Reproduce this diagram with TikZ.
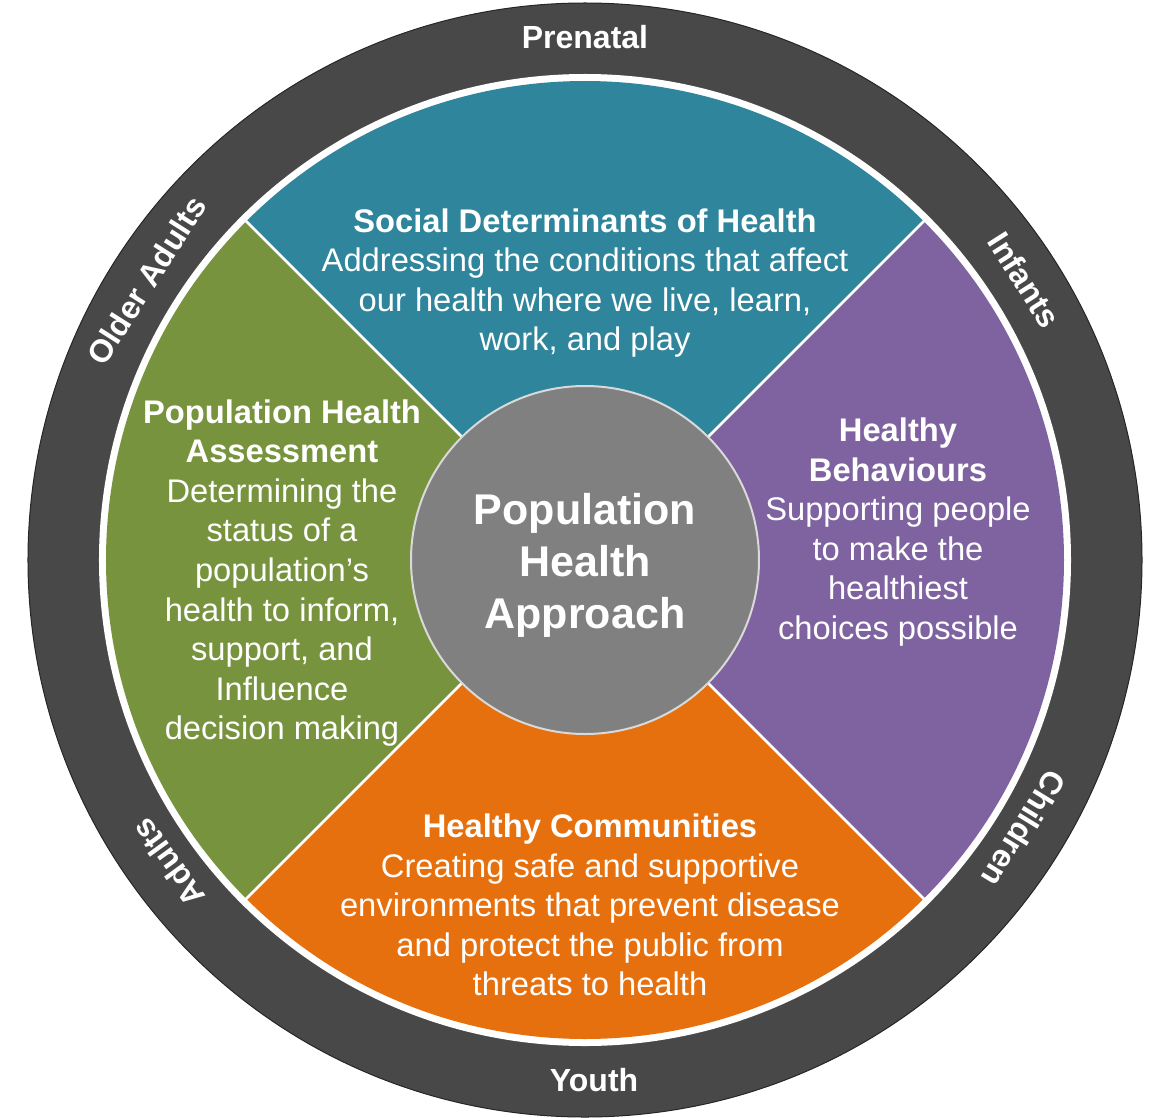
\documentclass[tikz,border=0pt]{standalone}
\usepackage{fontspec}
\setmainfont{Liberation Sans}
\usepackage{tikz}

\definecolor{ringgray}{RGB}{72,72,72}
\definecolor{hubgray}{RGB}{128,128,128}
\definecolor{sdohteal}{RGB}{47,133,155}
\definecolor{behavpurple}{RGB}{127,99,160}
\definecolor{assessgreen}{RGB}{120,147,62}
\definecolor{commorange}{RGB}{231,112,14}

\tikzset{
  ringlabel/.style={text=white,inner sep=0pt,font=\fontsize{32}{38}\selectfont\bfseries},
  quadtext/.style={text=white,inner sep=0pt,align=center,font=\fontsize{32.7}{39.6}\selectfont},
  hubdisc/.style={circle,fill=hubgray,draw=white!85!black,line width=2,minimum size=348pt,inner sep=0pt},
  hubtext/.style={text=white,inner sep=0pt,align=center,font=\fontsize{43}{52}\selectfont\bfseries}
}

\begin{document}
\begin{tikzpicture}[line cap=round,line join=round,x=1pt,y=1pt]
\useasboundingbox (-585,-557) rectangle (565,560);
% life course ring
\fill[ringgray,draw=black!85,line width=1] (0,0) circle (557);
\fill[white] (0,0) circle (486);
% the four quadrants
\fill[sdohteal] (0,0) -- (45:479) arc[start angle=45,end angle=135,radius=479] -- cycle;
\fill[assessgreen] (0,0) -- (135:479) arc[start angle=135,end angle=225,radius=479] -- cycle;
\fill[commorange] (0,0) -- (225:479) arc[start angle=225,end angle=315,radius=479] -- cycle;
\fill[behavpurple] (0,0) -- (315:479) arc[start angle=315,end angle=405,radius=479] -- cycle;
\draw[white,line width=2.5] (45:479) -- (225:479);
\draw[white,line width=2.5] (135:479) -- (315:479);
% centre
\node[hubdisc] (hub) at (0,0) {};
\node[hubtext] (hubtitle) at (0,-5) {Population\\Health\\Approach};
% quadrant texts
\node[quadtext] (sdoh) at (0,277) {\textbf{Social Determinants of Health}\\Addressing the conditions that affect\\our health where we live, learn,\\work, and play};
\node[quadtext] (behav) at (313,28) {\textbf{Healthy}\\\textbf{Behaviours}\\Supporting people\\to make the\\healthiest\\choices possible};
\node[quadtext] (assess) at (-303,-13) {\textbf{Population Health}\\\textbf{Assessment}\\Determining the\\status of a\\population’s\\health to inform,\\support, and\\Influence\\decision making};
\node[quadtext] (comm) at (5,-345) {\textbf{Healthy Communities}\\Creating safe and supportive\\environments that prevent disease\\and protect the public from\\threats to health};
% ring labels
\node[ringlabel] (prenatal) at (90:523) {Prenatal};
\node[ringlabel,rotate=-57.5] (infants) at (32.5:521) {Infants};
\node[ringlabel,rotate=-121.5] (children) at (-31.5:515) {Children};
\node[ringlabel] (youth) at (271:520) {Youth};
\node[ringlabel,rotate=126] (adults) at (216:515) {Adults};
\node[ringlabel,rotate=57.5] (olderadults) at (147.5:520) {Older Adults};
\end{tikzpicture}
\end{document}
